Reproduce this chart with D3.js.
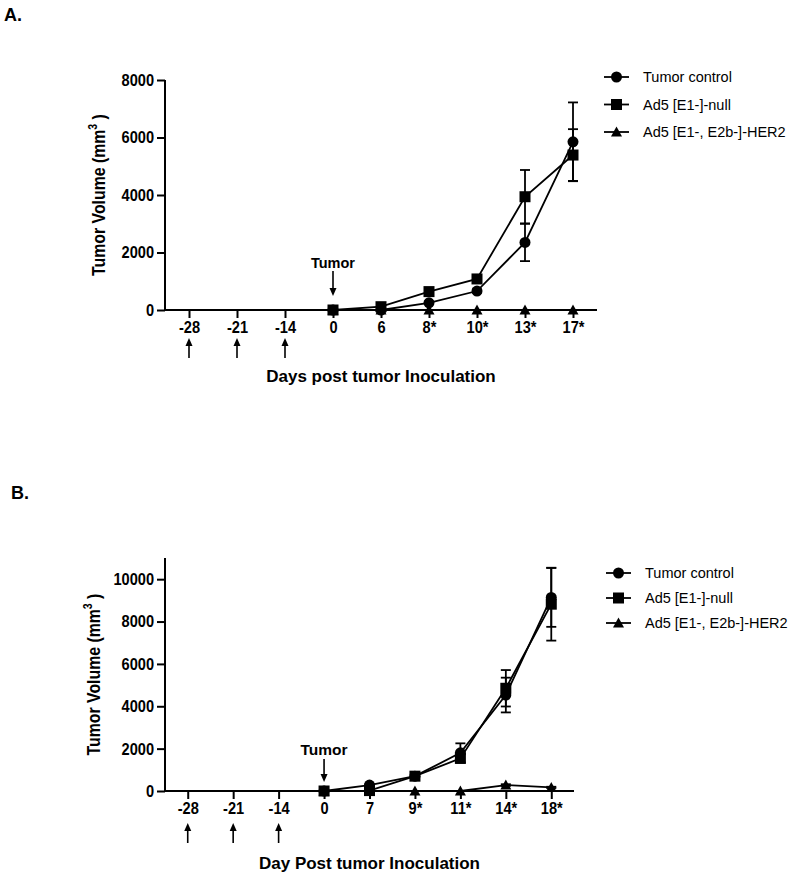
<!DOCTYPE html>
<html><head><meta charset="utf-8">
<script src="https://cdn.jsdelivr.net/npm/d3@7"></script>
<style>
body{margin:0;background:#fff;}
svg{display:block;font-family:Arial,"Liberation Sans",sans-serif;}
</style></head><body>
<svg id="chart" width="800" height="877"></svg>
<script>
// ---------- Panel A data ----------
const categoriesA = ["-28","-21","-14","0","6","8*","10*","13*","17*"];
const controlA    = [null,null,null,0,0,250,660,2350,5850];
const controlErrA = [null,null,null,0,0,40,60,650,1370];
const nullA       = [null,null,null,0,115,640,1080,3940,5390];
const nullErrA    = [null,null,null,0,20,60,80,930,900];
const her2A       = [null,null,null,0,0,0,0,0,0];
const her2ErrA    = [null,null,null,0,0,0,0,0,0];
const yTicksA     = [0,2000,4000,6000,8000];
const yMaxA       = 8000;
const vaccineDaysA = ["-28","-21","-14"];

// ---------- Panel B data ----------
const categoriesB = ["-28","-21","-14","0","7","9*","11*","14*","18*"];
const controlB    = [null,null,null,0,280,700,1800,4530,9140];
const controlErrB = [null,null,null,0,40,60,450,820,1390];
const nullB       = [null,null,null,0,20,700,1540,4850,8820];
const nullErrB    = [null,null,null,0,20,60,200,860,1720];
const her2B       = [null,null,null,0,0,0,0,280,170];
const her2ErrB    = [null,null,null,0,0,0,0,40,30];
const yTicksB     = [0,2000,4000,6000,8000,10000];
const yMaxB       = 11000;
const vaccineDaysB = ["-28","-21","-14"];

const seriesNames = ["Tumor control","Ad5 [E1-]-null","Ad5 [E1-, E2b-]-HER2"];
const seriesShapes = ["circle","square","triangle"];

const svg = d3.select("#chart");
const FONT = 'Arial,"Liberation Sans",sans-serif';
const SX = 0.86; // horizontal condensing of tick labels

function marker(g, shape, x, y){
  if(shape==="circle"){
    g.append("circle").attr("cx",x).attr("cy",y).attr("r",5.5).attr("fill","#000");
  } else if(shape==="square"){
    g.append("rect").attr("x",x-5.5).attr("y",y-5.5).attr("width",11).attr("height",11).attr("fill","#000");
  } else {
    g.append("path").attr("d",`M${x},${y-5.5}L${x+5.5},${y+4.5}L${x-5.5},${y+4.5}Z`).attr("fill","#000");
  }
}

function arrow(g, x, y1, y2){
  const dir = y2>y1 ? 1 : -1;
  g.append("line").attr("x1",x).attr("x2",x).attr("y1",y1).attr("y2",y2-dir*5)
    .attr("stroke","#000").attr("stroke-width",1.6);
  g.append("path").attr("d",`M${x},${y2}L${x-3.5},${y2-dir*8}L${x+3.5},${y2-dir*8}Z`).attr("fill","#000");
}

function drawPanel(cfg){
  const g = svg.append("g");
  const x = d3.scalePoint().domain(cfg.categories).range([cfg.x0,cfg.x1]).padding(0.5);
  const y = d3.scaleLinear().domain([0,cfg.yMax]).range([cfg.y0,cfg.yTop]);

  g.append("text").attr("x",cfg.letterX).attr("y",cfg.letterY).attr("font-size",18)
    .attr("font-weight","bold").text(cfg.letter);

  // y axis
  const yAxis = g.append("g").attr("transform",`translate(${cfg.x0},0)`)
    .call(d3.axisLeft(y).tickValues(cfg.yTicks).tickSize(8).tickPadding(3).tickFormat(d3.format("d")));
  yAxis.select(".domain").attr("stroke-width",2).attr("d",`M0,${cfg.yTop}V${cfg.y0}`);
  yAxis.selectAll(".tick line").attr("stroke-width",2);
  yAxis.selectAll("text").attr("font-size",17).attr("font-weight","bold").attr("fill","#000")
    .attr("font-family",FONT).attr("x",-11/SX).attr("transform",`scale(${SX},1)`);

  // x axis
  const xAxis = g.append("g").attr("transform",`translate(0,${cfg.y0})`)
    .call(d3.axisBottom(x).tickSize(8).tickPadding(3));
  xAxis.select(".domain").attr("stroke-width",2).attr("d",`M${cfg.x0},0H${cfg.x1}`);
  xAxis.selectAll(".tick line").attr("stroke-width",2);
  xAxis.selectAll("text").attr("font-size",17).attr("font-weight","bold").attr("fill","#000")
    .attr("font-family",FONT).attr("transform",`scale(${SX},1)`);

  // y axis title
  const yt = g.append("text")
    .attr("transform",`translate(${cfg.yTitleX},${(cfg.y0+cfg.yTop)/2}) rotate(-90) scale(0.88,1)`)
    .attr("text-anchor","middle").attr("font-size",18).attr("font-weight","bold");
  yt.append("tspan").text("Tumor Volume (mm");
  yt.append("tspan").attr("font-size",12).attr("dy",-8).text("3");
  yt.append("tspan").attr("dy",8).text(" )");

  // x axis title
  g.append("text").attr("x",(cfg.x0+cfg.x1)/2).attr("y",cfg.xTitleY).attr("text-anchor","middle")
    .attr("font-size",17).attr("font-weight","bold").text(cfg.xTitle);

  // vaccine arrows
  cfg.vaccineDays.forEach(d=>arrow(g, x(d), cfg.vArrowY2, cfg.vArrowY1));

  // Tumor annotation
  g.append("text").attr("x",x("0")).attr("y",cfg.tumorTextY).attr("text-anchor","middle")
    .attr("font-size",cfg.tumorFont).attr("font-weight","bold").text("Tumor");
  arrow(g, x("0"), cfg.tumorArrowY1, cfg.tumorArrowY2);

  const series = [cfg.control, cfg.nul, cfg.her2];
  const errs = [cfg.controlErr, cfg.nulErr, cfg.her2Err];

  const line = d3.line().defined(d=>d.v!==null).x(d=>x(d.c)).y(d=>y(d.v));
  series.forEach((s,i)=>{
    const pts = cfg.categories.map((c,j)=>({c, v:s[j]}));
    g.append("path").attr("d",line(pts)).attr("fill","none").attr("stroke","#000").attr("stroke-width",1.8);
  });
  series.forEach((s,i)=>{
    cfg.categories.forEach((c,j)=>{
      const v=s[j], e=errs[i][j];
      if(v===null || !e) return;
      const xc=x(c);
      g.append("line").attr("x1",xc).attr("x2",xc).attr("y1",y(v-e)).attr("y2",y(v+e)).attr("stroke","#000").attr("stroke-width",1.8);
      [v-e,v+e].forEach(w=>{
        g.append("line").attr("x1",xc-5).attr("x2",xc+5).attr("y1",y(w)).attr("y2",y(w)).attr("stroke","#000").attr("stroke-width",1.8);
      });
    });
  });
  [2,0,1].forEach(i=>{
    const s=series[i];
    cfg.categories.forEach((c,j)=>{
      if(s[j]===null) return;
      marker(g, seriesShapes[i], x(c), y(s[j]));
    });
  });

  // legend
  seriesNames.forEach((n,i)=>{
    const ly = cfg.legendY + i*cfg.legendStep;
    g.append("line").attr("x1",cfg.legendX).attr("x2",cfg.legendX+25).attr("y1",ly).attr("y2",ly)
      .attr("stroke","#000").attr("stroke-width",1.8);
    marker(g, seriesShapes[i], cfg.legendX+12.5, ly);
    g.append("text").attr("x",cfg.legendX+39).attr("y",ly+5).attr("font-size",14.5).text(n);
  });
}

drawPanel({
  letter:"A.", letterX:4, letterY:21,
  categories:categoriesA, control:controlA, controlErr:controlErrA, nul:nullA, nulErr:nullErrA,
  her2:her2A, her2Err:her2ErrA, yTicks:yTicksA, yMax:yMaxA, vaccineDays:vaccineDaysA,
  x0:165, x1:597, y0:310, yTop:80,
  yTitleX:105,
  xTitle:"Days post tumor Inoculation", xTitleY:382,
  vArrowY1:338, vArrowY2:358,
  tumorTextY:268, tumorFont:14.5, tumorArrowY1:271, tumorArrowY2:296,
  legendX:604, legendY:77, legendStep:27.5
});

drawPanel({
  letter:"B.", letterX:11, letterY:499,
  categories:categoriesB, control:controlB, controlErr:controlErrB, nul:nullB, nulErr:nullErrB,
  her2:her2B, her2Err:her2ErrB, yTicks:yTicksB, yMax:yMaxB, vaccineDays:vaccineDaysB,
  x0:165, x1:574, y0:791, yTop:558,
  yTitleX:100,
  xTitle:"Day Post tumor Inoculation", xTitleY:869,
  vArrowY1:823, vArrowY2:843,
  tumorTextY:755, tumorFont:15.5, tumorArrowY1:759, tumorArrowY2:782,
  legendX:606, legendY:573, legendStep:25
});
</script>
</body></html>
